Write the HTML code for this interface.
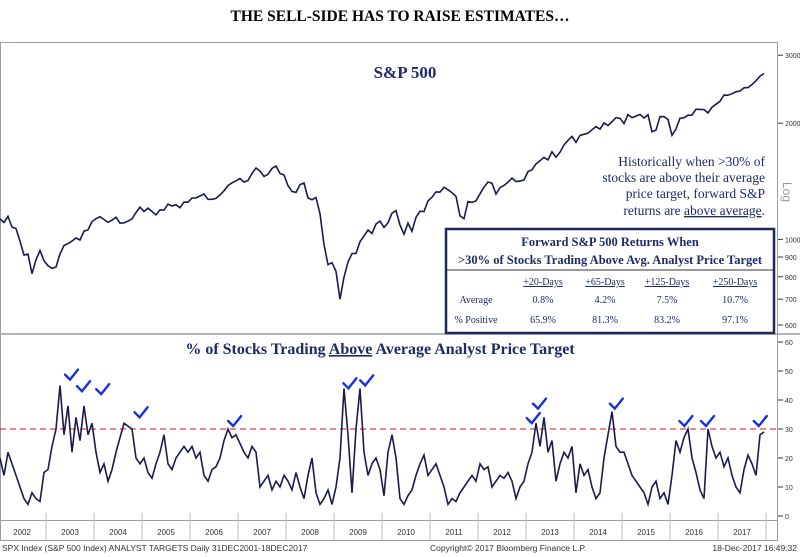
<!DOCTYPE html>
<html><head><meta charset="utf-8"><style>
body{margin:0;background:#fff;width:800px;height:557px;overflow:hidden;font-family:"Liberation Serif",serif}
svg{position:absolute;left:0;top:0}
</style></head><body>
<svg width="800" height="557" xmlns="http://www.w3.org/2000/svg">
<text x="400" y="21" text-anchor="middle" font-family="Liberation Serif" font-weight="bold" font-size="15.5" fill="#000">THE SELL-SIDE HAS TO RAISE ESTIMATES…</text>
<rect x="0.5" y="42.5" width="777" height="478" fill="#fff" stroke="#9a9aa8"/>
<line x1="0" y1="334" x2="800" y2="334" stroke="#9a9aa8" stroke-width="1.5"/>
<rect x="0.5" y="520.5" width="777" height="20" fill="#fff" stroke="#9a9aa8"/>
<g id="grid"></g>
<g id="top"></g>
<g id="bot"></g>
<text x="405" y="78" text-anchor="middle" font-weight="bold" font-size="17" fill="#1f2a66">S&amp;P 500</text>
<g font-family="Liberation Serif" font-size="13.5" fill="#1f2a66" text-anchor="end">
<text x="765" y="166">Historically when &gt;30% of</text>
<text x="765" y="182">stocks are above their average</text>
<text x="765" y="198">price target, forward S&amp;P</text>
<text x="765" y="215">returns are <tspan text-decoration="underline">above average</tspan>.</text>
</g>
<text x="0" y="0" transform="translate(783,182) rotate(90)" font-family="Liberation Sans" font-size="12" fill="#999">Log</text>
<g>
<rect x="446" y="229" width="328" height="104" fill="#fff" stroke="#1f2a5a" stroke-width="2.5"/>
<line x1="446" y1="270" x2="774" y2="270" stroke="#333" stroke-width="1"/>
<g font-family="Liberation Serif" font-weight="bold" font-size="12.5" fill="#1f2a66" text-anchor="middle">
<text x="610" y="246">Forward S&amp;P 500 Returns When</text>
<text x="610" y="264">&gt;30% of Stocks Trading Above Avg. Analyst Price Target</text>
</g>
<g font-family="Liberation Serif" font-size="10" fill="#1f2a66" text-anchor="middle">
<text x="543" y="285" text-decoration="underline">+20-Days</text>
<text x="605" y="285" text-decoration="underline">+65-Days</text>
<text x="667" y="285" text-decoration="underline">+125-Days</text>
<text x="735" y="285" text-decoration="underline">+250-Days</text>
<text x="476" y="303">Average</text><text x="543" y="303">0.8%</text><text x="605" y="303">4.2%</text><text x="667" y="303">7.5%</text><text x="735" y="303">10.7%</text>
<text x="476" y="323">% Positive</text><text x="543" y="323">65.9%</text><text x="605" y="323">81.3%</text><text x="667" y="323">83.2%</text><text x="735" y="323">97.1%</text>
</g></g>
<text x="380" y="354" text-anchor="middle" font-weight="bold" font-size="16" fill="#1f2a66">% of Stocks Trading <tspan text-decoration="underline">Above</tspan> Average Analyst Price Target</text>
<g font-family="Liberation Sans" font-size="8.5" fill="#333">
<text x="2" y="551">SPX Index (S&amp;P 500 Index) ANALYST TARGETS  Daily 31DEC2001-18DEC2017</text>
<text x="430" y="551">Copyright© 2017 Bloomberg Finance L.P.</text>
<text x="797" y="551" text-anchor="end">18-Dec-2017 16:49:32</text>
</g>
</svg>
<script>
const years=[2002,2003,2004,2005,2006,2007,2008,2009,2010,2011,2012,2013,2014,2015,2016,2017];
const spxTicks=[3000,2000,1000,900,800,700,600];
const pctTicks=[0,10,20,30,40,50,60];
const threshold=30;
const spx=[1130,1106,1147,1076,1067,989,911,916,815,885,936,880,
855,841,848,917,964,975,990,1008,996,1050,1058,1112,
1131,1145,1126,1107,1121,1141,1101,1104,1115,1130,1174,1212,
1181,1204,1181,1157,1192,1191,1234,1220,1229,1207,1249,1248,
1280,1281,1295,1311,1270,1270,1277,1304,1336,1378,1401,1418,
1438,1407,1421,1482,1531,1503,1455,1474,1527,1549,1481,1468,
1378,1331,1323,1386,1400,1280,1267,1283,1165,969,860,870,
826,700,798,873,919,919,987,1021,1057,1036,1096,1115,
1074,1104,1169,1187,1089,1031,1102,1049,1141,1183,1181,1258,
1286,1327,1326,1364,1345,1321,1292,1150,1131,1253,1247,1258,
1312,1366,1408,1398,1310,1362,1379,1407,1441,1412,1416,1426,
1498,1515,1569,1598,1631,1606,1686,1633,1682,1757,1806,1848,
1783,1859,1872,1884,1924,1960,1931,2003,1972,2018,2068,2059,
1995,2105,2068,2086,2107,2063,2104,1900,1920,2079,2080,2044,
1860,1932,2060,2065,2097,2099,2174,2171,2168,2126,2199,2239,
2279,2364,2363,2384,2412,2423,2470,2472,2519,2575,2648,2690];
const pct=[20,14,22,18,14,10,6,4,8,6,5,15,
16,24,30,45,28,38,22,34,26,38,28,32,
22,15,18,12,16,22,27,32,31,30,20,18,
20,15,13,18,22,28,18,16,20,22,24,22,
24,20,22,14,12,16,17,20,26,30,27,28,
25,22,20,24,22,10,12,14,9,12,10,14,
12,9,15,10,6,14,20,8,4,6,9,4,
10,20,44,28,8,30,44,22,14,18,20,16,
7,22,28,20,6,4,7,9,14,18,21,14,
16,18,14,10,4,6,5,8,10,12,14,12,
18,16,17,10,12,14,13,15,12,6,10,12,
18,22,32,24,34,22,26,12,18,22,20,24,
8,18,14,16,10,6,8,20,28,36,24,22,
22,18,14,12,10,8,4,10,12,6,8,4,
14,26,22,27,30,20,15,9,6,30,24,20,
22,17,20,14,10,8,16,21,18,14,28,29];
const checks=[[2003.5,46],[2003.75,42],[2004.15,41],[2004.95,33],[2006.9,30],[2009.3,43],[2009.65,44],[2013.12,31],[2013.25,36],[2014.85,36],[2016.3,30],[2016.75,30],[2017.85,30]];
const NS='http://www.w3.org/2000/svg';
const X=t=>-2+(t-2002)*48;
const Ytop=v=>325-Math.log10(v/600)*386;
const Ybot=v=>516-v*2.9;
function mk(tag,attrs,parent){const e=document.createElementNS(NS,tag);for(const k in attrs)e.setAttribute(k,attrs[k]);parent.appendChild(e);return e;}
const grid=document.getElementById('grid'),top_=document.getElementById('top'),bot=document.getElementById('bot');
years.forEach((y,i)=>{
 const l=mk('line',{x1:X(y+1),x2:X(y+1),y1:513,y2:540,stroke:'#bbb'},grid);
 
 
 const t=mk('text',{x:X(y+0.5),y:535,'text-anchor':'middle','font-family':'Liberation Sans','font-size':'8',fill:'#333'},grid);
 t.textContent=y;
 
 
});
spxTicks.forEach(v=>{
 const y=Ytop(v);
 mk('line',{x1:778,x2:783,y1:y,y2:y,stroke:'#333'},grid);
 const t=mk('text',{x:785,y:y+3,'font-family':'Liberation Sans','font-size':'7',fill:'#333'},grid);
 t.textContent=v;
 
 
});
pctTicks.forEach(v=>{
 const y=Ybot(v);
 mk('line',{x1:778,x2:783,y1:y,y2:y,stroke:'#333'},grid);
 const t=mk('text',{x:785,y:y+3,'font-family':'Liberation Sans','font-size':'7',fill:'#333'},grid);
 t.textContent=v;
 
 
});
const th=mk('line',{x1:0,x2:778,y1:Ybot(threshold),y2:Ybot(threshold),stroke:'#e04040','stroke-dasharray':'6,4','stroke-width':1.3},bot);


const tp=spx.map((v,i)=>X(2002+(i+0.5)/12).toFixed(1)+','+Ytop(v).toFixed(1)).join(' ');
const l1=mk('polyline',{points:tp,fill:'none',stroke:'#1a1a50','stroke-width':1.6},top_);


const bp=pct.map((v,i)=>X(2002+(i+0.5)/12).toFixed(1)+','+Ybot(v).toFixed(1)).join(' ');
const l2=mk('polyline',{points:bp,fill:'none',stroke:'#1a1a50','stroke-width':1.6},bot);


checks.forEach(c=>{
 const x=X(c[0]),y=Ybot(c[1])-5;
 const p=mk('path',{d:`M${x-5},${y-3} L${x},${y+2} L${x+8},${y-8}`,fill:'none',stroke:'#1530e0','stroke-width':2.4,'stroke-linecap':'round'},bot);
 
 
});
</script>
</body></html>
